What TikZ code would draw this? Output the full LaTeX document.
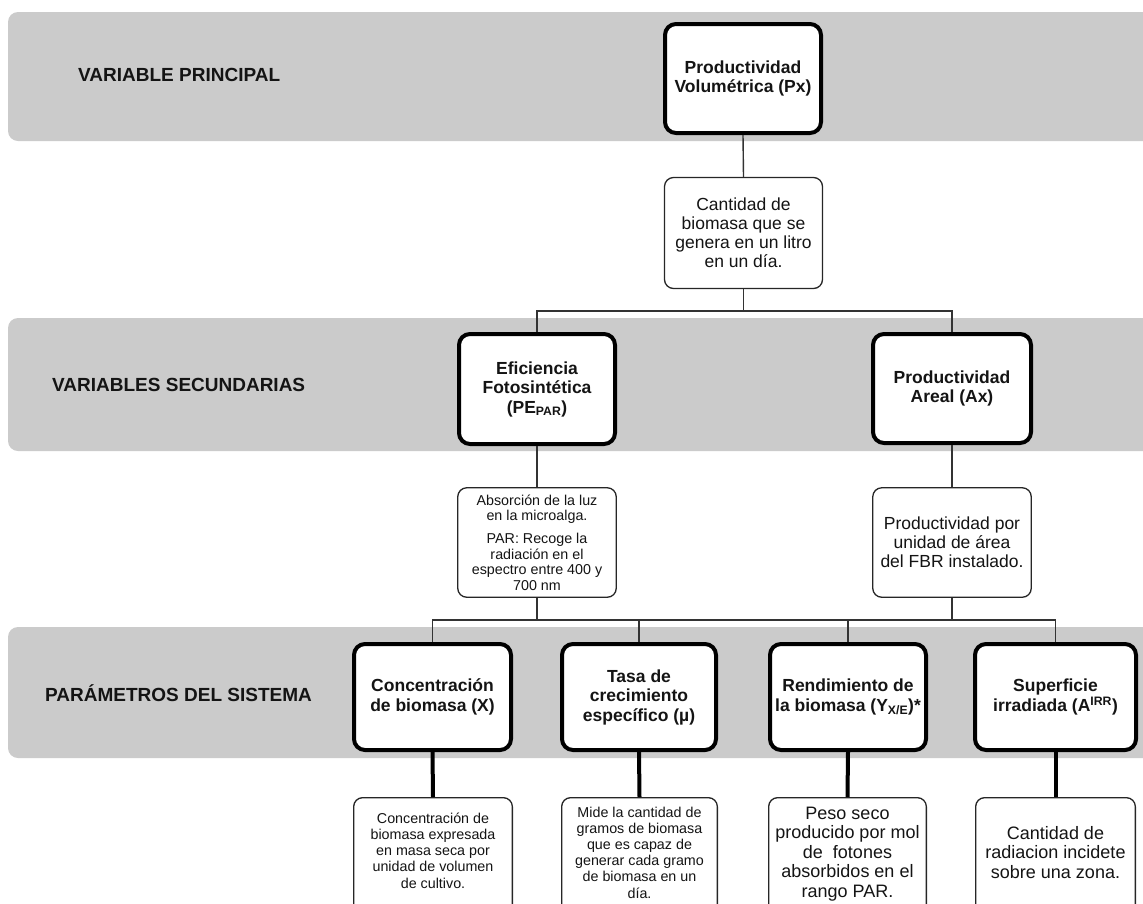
\documentclass[tikz,border=0pt]{standalone}
\usepackage{fontspec}
\setmainfont{Liberation Sans}
\definecolor{bandgray}{RGB}{203,203,203}
\definecolor{ink}{RGB}{20,20,20}
\tikzset{
  band/.style={fill=bandgray, rounded corners=10pt},
  bandlabel/.style={anchor=west, inner sep=0pt, text=ink,
    font=\fontsize{19}{22}\selectfont\bfseries},
  varbox/.style={draw=black, line width=4pt, rounded corners=11pt, fill=white,
    align=center, inner sep=2pt, text=ink,
    font=\fontsize{17.5}{19.5}\selectfont\bfseries},
  descbox/.style={draw=black!85, line width=1.3pt, rounded corners=9pt, fill=white,
    align=center, inner sep=2pt, text=ink},
  bigtext/.style={font=\fontsize{17.5}{19}\selectfont},
  smalltext/.style={font=\fontsize{14.3}{16.2}\selectfont},
  plaintext/.style={align=center, inner sep=0pt, text=ink},
  link/.style={draw=black!80, line width=1.4pt},
  heavylink/.style={draw=black, line width=4pt},
}
\begin{document}
\begin{tikzpicture}[x=1pt, y=-1pt]
  \useasboundingbox (0,0) rectangle (1143,903);
  \clip (0,0) rectangle (1143,903);

  % level bands
  \path[band] (8,12) rectangle (1170,141);
  \path[band] (8,318) rectangle (1170,451);
  \path[band] (8,627) rectangle (1170,758);

  \node[bandlabel] (l1) at (78,75) {VARIABLE PRINCIPAL};
  \node[bandlabel] (l2) at (52,385) {VARIABLES SECUNDARIAS};
  \node[bandlabel] (l3) at (45,693) {PARÁMETROS DEL SISTEMA};

  % main variable
  \node[varbox, minimum width=156pt, minimum height=109pt] (px) at (743,78.5)
    {Productividad\\Volumétrica (Px)};
  \node[descbox, bigtext, minimum width=158pt, minimum height=111pt] (pxd) at (743.5,233)
    {Cantidad de\\biomasa que se\\genera en un litro\\en un día.};

  % secondary variables
  \node[varbox, minimum width=156pt, minimum height=110pt] (pe) at (537,389)
    {Eficiencia\\Fotosintética\\(PE\textsubscript{PAR})};
  \node[varbox, minimum width=158pt, minimum height=109pt] (ax) at (952,388.5)
    {Productividad\\Areal (Ax)};

  \node[descbox, minimum width=158.5pt, minimum height=109.5pt,
        font=\fontsize{14.3}{15.6}\selectfont] (ped) at (537,542.5)
    {Absorción de la luz\\en la microalga.\\[7pt]PAR: Recoge la\\radiación en el\\espectro entre 400 y\\700 nm};
  \node[descbox, bigtext, minimum width=158.5pt, minimum height=109.5pt] (axd) at (952,542.5)
    {Productividad por\\unidad de área\\del FBR instalado.};

  % system parameters
  \node[varbox, minimum width=157pt, minimum height=106pt] (X) at (432.5,697)
    {Concentración\\de biomasa (X)};
  \node[varbox, minimum width=154pt, minimum height=106pt] (mu) at (639,697)
    {Tasa de\\crecimiento\\específico (µ)};
  \node[varbox, minimum width=156pt, minimum height=106pt] (Y) at (848,697)
    {Rendimiento de\\la biomasa (Y\textsubscript{X/E})*};
  \node[varbox, minimum width=161pt, minimum height=106pt] (A) at (1055.5,697)
    {Superficie\\irradiada (A\textsuperscript{IRR})};

  % description boxes of the parameters (they run past the lower edge)
  \node[descbox, minimum width=158.7pt, minimum height=124.7pt] (Xd) at (433,860) {};
  \node[descbox, minimum width=155.7pt, minimum height=124.7pt] (mud) at (639.5,860) {};
  \node[descbox, minimum width=157.7pt, minimum height=124.7pt] (Yd) at (847.5,860) {};
  \node[descbox, minimum width=159.7pt, minimum height=124.7pt] (Ad) at (1055.5,860) {};

  \node[plaintext, smalltext] (Xdt) at (433,850.5)
    {Concentración de\\biomasa expresada\\en masa seca por\\unidad de volumen\\de cultivo.};
  \node[plaintext, smalltext] (mudt) at (639.5,852.5)
    {Mide la cantidad de\\gramos de biomasa\\que es capaz de\\generar cada gramo\\de biomasa en un\\día.};
  \node[plaintext, font=\fontsize{18}{19.5}\selectfont] (Ydt) at (847.5,854)
    {Peso seco\\producido por mol\\de \ fotones\\absorbidos en el\\rango PAR.};
  \node[plaintext, font=\fontsize{18}{19.5}\selectfont] (Adt) at (1055.5,852.5)
    {Cantidad de\\radiacion incidete\\sobre una zona.};

  % connectors
  \coordinate (busA) at (743.5,311);
  \coordinate (busB) at (743,620);

  \draw[link] (px.south) -- (pxd.north);
  \draw[link] (pxd.south) -- (busA);
  \draw[link] (pe.north) |- (busA) -| (ax.north);

  \draw[link] (pe.south) -- (ped.north);
  \draw[link] (ax.south) -- (axd.north);

  \draw[link] (X.north) |- (busB) -| (A.north);
  \draw[link] (mu.north) -- (mu.north |- busB);
  \draw[link] (Y.north) -- (Y.north |- busB);
  \draw[link] (ped.south) -- (ped.south |- busB);
  \draw[link] (axd.south) -- (axd.south |- busB);

  \draw[heavylink] (X.south) -- (Xd.north);
  \draw[heavylink] (mu.south) -- (mud.north);
  \draw[heavylink] (Y.south) -- (Yd.north);
  \draw[heavylink] (A.south) -- (Ad.north);
\end{tikzpicture}
\end{document}
